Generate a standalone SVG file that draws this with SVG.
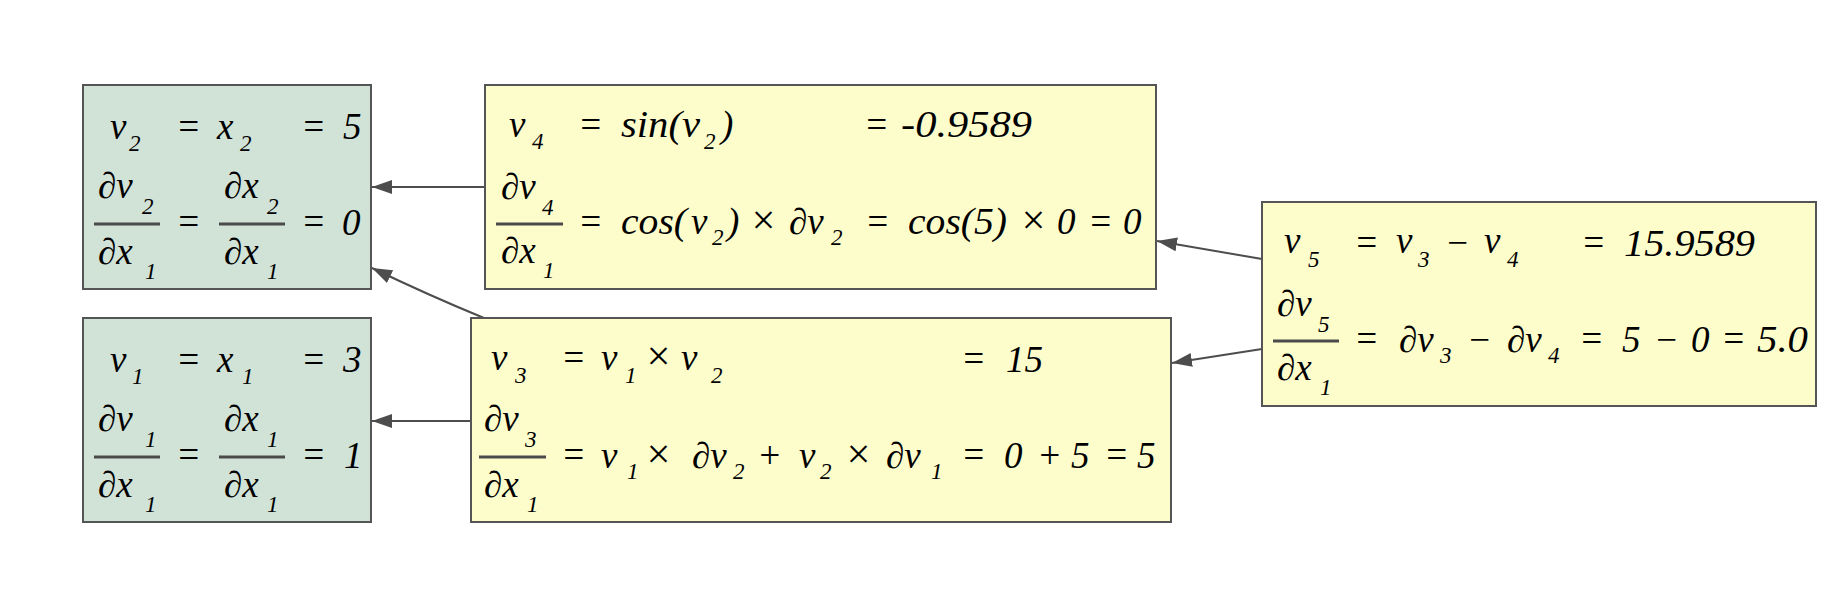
<svg xmlns="http://www.w3.org/2000/svg" width="1833" height="608" viewBox="0 0 1833 608">
<defs>
<marker id="ah" viewBox="0 0 20 14" refX="20" refY="7" markerWidth="20" markerHeight="14" markerUnits="userSpaceOnUse" orient="auto">
<path d="M0,0 L20,7 L0,14 z" fill="#4d4d4d"/>
</marker>
</defs>
<rect width="1833" height="608" fill="#ffffff"/>

<g id="connectors" fill="none" stroke="#4d4d4d" stroke-width="2">
<path d="M485,187 L372,187" marker-end="url(#ah)"/>
<path d="M484,318 Q428,295 372,268" marker-end="url(#ah)"/>
<path d="M471,421 L372,421" marker-end="url(#ah)"/>
<path d="M1262,259 L1157,241" marker-end="url(#ah)"/>
<path d="M1262,349 L1172,363" marker-end="url(#ah)"/>
</g>

<g id="v2">
<rect x="83" y="85" width="288" height="204" fill="#d1e2d7" stroke="#555555" stroke-width="2"/>
<text x="110" y="139" font-family="'Liberation Serif', 'Times New Roman', serif" font-style="italic" font-size="37">v</text>
<text x="129" y="151" font-family="'Liberation Serif', 'Times New Roman', serif" font-style="italic" font-size="23">2</text>
<text x="176" y="139" font-family="'Liberation Serif', 'Times New Roman', serif" font-style="italic" font-size="37">=</text>
<text x="217" y="139" font-family="'Liberation Serif', 'Times New Roman', serif" font-style="italic" font-size="37">x</text>
<text x="240" y="151" font-family="'Liberation Serif', 'Times New Roman', serif" font-style="italic" font-size="23">2</text>
<text x="301" y="139" font-family="'Liberation Serif', 'Times New Roman', serif" font-style="italic" font-size="37">=</text>
<text x="343" y="139" font-family="'Liberation Serif', 'Times New Roman', serif" font-style="italic" font-size="37">5</text>
<text x="98" y="198" font-family="'Liberation Serif', 'Times New Roman', serif" font-style="italic" font-size="37">∂v</text>
<text x="142" y="214" font-family="'Liberation Serif', 'Times New Roman', serif" font-style="italic" font-size="23">2</text>
<line x1="94" y1="224" x2="160" y2="224" stroke="#4a4a4a" stroke-width="3"/>
<text x="98" y="264" font-family="'Liberation Serif', 'Times New Roman', serif" font-style="italic" font-size="37">∂x</text>
<text x="145" y="279" font-family="'Liberation Serif', 'Times New Roman', serif" font-style="italic" font-size="23">1</text>
<text x="176" y="234" font-family="'Liberation Serif', 'Times New Roman', serif" font-style="italic" font-size="37">=</text>
<text x="224" y="198" font-family="'Liberation Serif', 'Times New Roman', serif" font-style="italic" font-size="37">∂x</text>
<text x="267" y="214" font-family="'Liberation Serif', 'Times New Roman', serif" font-style="italic" font-size="23">2</text>
<line x1="219" y1="224" x2="285" y2="224" stroke="#4a4a4a" stroke-width="3"/>
<text x="224" y="264" font-family="'Liberation Serif', 'Times New Roman', serif" font-style="italic" font-size="37">∂x</text>
<text x="267" y="279" font-family="'Liberation Serif', 'Times New Roman', serif" font-style="italic" font-size="23">1</text>
<text x="301" y="234" font-family="'Liberation Serif', 'Times New Roman', serif" font-style="italic" font-size="37">=</text>
<text x="342" y="235" font-family="'Liberation Serif', 'Times New Roman', serif" font-style="italic" font-size="37">0</text>
</g>

<g id="v1">
<rect x="83" y="318" width="288" height="204" fill="#d1e2d7" stroke="#555555" stroke-width="2"/>
<text x="110" y="372" font-family="'Liberation Serif', 'Times New Roman', serif" font-style="italic" font-size="37">v</text>
<text x="132" y="384" font-family="'Liberation Serif', 'Times New Roman', serif" font-style="italic" font-size="23">1</text>
<text x="176" y="372" font-family="'Liberation Serif', 'Times New Roman', serif" font-style="italic" font-size="37">=</text>
<text x="217" y="372" font-family="'Liberation Serif', 'Times New Roman', serif" font-style="italic" font-size="37">x</text>
<text x="242" y="384" font-family="'Liberation Serif', 'Times New Roman', serif" font-style="italic" font-size="23">1</text>
<text x="301" y="372" font-family="'Liberation Serif', 'Times New Roman', serif" font-style="italic" font-size="37">=</text>
<text x="343" y="372" font-family="'Liberation Serif', 'Times New Roman', serif" font-style="italic" font-size="37">3</text>
<text x="98" y="431" font-family="'Liberation Serif', 'Times New Roman', serif" font-style="italic" font-size="37">∂v</text>
<text x="145" y="447" font-family="'Liberation Serif', 'Times New Roman', serif" font-style="italic" font-size="23">1</text>
<line x1="94" y1="457" x2="160" y2="457" stroke="#4a4a4a" stroke-width="3"/>
<text x="98" y="497" font-family="'Liberation Serif', 'Times New Roman', serif" font-style="italic" font-size="37">∂x</text>
<text x="145" y="512" font-family="'Liberation Serif', 'Times New Roman', serif" font-style="italic" font-size="23">1</text>
<text x="176" y="467" font-family="'Liberation Serif', 'Times New Roman', serif" font-style="italic" font-size="37">=</text>
<text x="224" y="431" font-family="'Liberation Serif', 'Times New Roman', serif" font-style="italic" font-size="37">∂x</text>
<text x="267" y="447" font-family="'Liberation Serif', 'Times New Roman', serif" font-style="italic" font-size="23">1</text>
<line x1="219" y1="457" x2="285" y2="457" stroke="#4a4a4a" stroke-width="3"/>
<text x="224" y="497" font-family="'Liberation Serif', 'Times New Roman', serif" font-style="italic" font-size="37">∂x</text>
<text x="267" y="512" font-family="'Liberation Serif', 'Times New Roman', serif" font-style="italic" font-size="23">1</text>
<text x="301" y="467" font-family="'Liberation Serif', 'Times New Roman', serif" font-style="italic" font-size="37">=</text>
<text x="344" y="468" font-family="'Liberation Serif', 'Times New Roman', serif" font-style="italic" font-size="37">1</text>
</g>

<g id="v4">
<rect x="485" y="85" width="671" height="204" fill="#fdfdcc" stroke="#555555" stroke-width="2"/>
<text x="509" y="137" font-family="'Liberation Serif', 'Times New Roman', serif" font-style="italic" font-size="37">v</text>
<text x="532" y="149" font-family="'Liberation Serif', 'Times New Roman', serif" font-style="italic" font-size="23">4</text>
<text x="578" y="137" font-family="'Liberation Serif', 'Times New Roman', serif" font-style="italic" font-size="37">=</text>
<text x="621" y="137" font-family="'Liberation Serif', 'Times New Roman', serif" font-style="italic" font-size="37" textLength="79" lengthAdjust="spacingAndGlyphs">sin(v</text>
<text x="704" y="149" font-family="'Liberation Serif', 'Times New Roman', serif" font-style="italic" font-size="23">2</text>
<text x="721" y="137" font-family="'Liberation Serif', 'Times New Roman', serif" font-style="italic" font-size="37">)</text>
<text x="864" y="137" font-family="'Liberation Serif', 'Times New Roman', serif" font-style="italic" font-size="37">=</text>
<text x="901" y="137" font-family="'Liberation Serif', 'Times New Roman', serif" font-style="italic" font-size="37" textLength="131" lengthAdjust="spacingAndGlyphs">-0.9589</text>
<text x="501" y="199" font-family="'Liberation Serif', 'Times New Roman', serif" font-style="italic" font-size="37">∂v</text>
<text x="542" y="215" font-family="'Liberation Serif', 'Times New Roman', serif" font-style="italic" font-size="23">4</text>
<line x1="496" y1="224" x2="563" y2="224" stroke="#4a4a4a" stroke-width="3"/>
<text x="501" y="263" font-family="'Liberation Serif', 'Times New Roman', serif" font-style="italic" font-size="37">∂x</text>
<text x="543" y="278" font-family="'Liberation Serif', 'Times New Roman', serif" font-style="italic" font-size="23">1</text>
<text x="578" y="234" font-family="'Liberation Serif', 'Times New Roman', serif" font-style="italic" font-size="37">=</text>
<text x="621" y="234" font-family="'Liberation Serif', 'Times New Roman', serif" font-style="italic" font-size="37" textLength="66" lengthAdjust="spacingAndGlyphs">cos(</text>
<text x="691" y="234" font-family="'Liberation Serif', 'Times New Roman', serif" font-style="italic" font-size="37">v</text>
<text x="712" y="245" font-family="'Liberation Serif', 'Times New Roman', serif" font-style="italic" font-size="23">2</text>
<text x="727" y="234" font-family="'Liberation Serif', 'Times New Roman', serif" font-style="italic" font-size="37">)</text>
<text x="749" y="234" font-family="'Liberation Serif', 'Times New Roman', serif" font-style="italic" font-size="42">×</text>
<text x="789" y="234" font-family="'Liberation Serif', 'Times New Roman', serif" font-style="italic" font-size="37">∂v</text>
<text x="831" y="245" font-family="'Liberation Serif', 'Times New Roman', serif" font-style="italic" font-size="23">2</text>
<text x="865" y="234" font-family="'Liberation Serif', 'Times New Roman', serif" font-style="italic" font-size="37">=</text>
<text x="908" y="234" font-family="'Liberation Serif', 'Times New Roman', serif" font-style="italic" font-size="37" textLength="99" lengthAdjust="spacingAndGlyphs">cos(5)</text>
<text x="1019" y="234" font-family="'Liberation Serif', 'Times New Roman', serif" font-style="italic" font-size="42">×</text>
<text x="1057" y="234" font-family="'Liberation Serif', 'Times New Roman', serif" font-style="italic" font-size="37">0</text>
<text x="1088" y="234" font-family="'Liberation Serif', 'Times New Roman', serif" font-style="italic" font-size="37">=</text>
<text x="1123" y="234" font-family="'Liberation Serif', 'Times New Roman', serif" font-style="italic" font-size="37">0</text>
</g>

<g id="v3">
<rect x="471" y="318" width="700" height="204" fill="#fdfdcc" stroke="#555555" stroke-width="2"/>
<text x="491" y="370" font-family="'Liberation Serif', 'Times New Roman', serif" font-style="italic" font-size="37">v</text>
<text x="515" y="383" font-family="'Liberation Serif', 'Times New Roman', serif" font-style="italic" font-size="23">3</text>
<text x="561" y="370" font-family="'Liberation Serif', 'Times New Roman', serif" font-style="italic" font-size="37">=</text>
<text x="601" y="370" font-family="'Liberation Serif', 'Times New Roman', serif" font-style="italic" font-size="37">v</text>
<text x="625" y="383" font-family="'Liberation Serif', 'Times New Roman', serif" font-style="italic" font-size="23">1</text>
<text x="644" y="370" font-family="'Liberation Serif', 'Times New Roman', serif" font-style="italic" font-size="42">×</text>
<text x="681" y="370" font-family="'Liberation Serif', 'Times New Roman', serif" font-style="italic" font-size="37">v</text>
<text x="711" y="383" font-family="'Liberation Serif', 'Times New Roman', serif" font-style="italic" font-size="23">2</text>
<text x="961" y="371" font-family="'Liberation Serif', 'Times New Roman', serif" font-style="italic" font-size="37">=</text>
<text x="1006" y="372" font-family="'Liberation Serif', 'Times New Roman', serif" font-style="italic" font-size="37" textLength="37" lengthAdjust="spacingAndGlyphs">15</text>
<text x="484" y="431" font-family="'Liberation Serif', 'Times New Roman', serif" font-style="italic" font-size="37">∂v</text>
<text x="525" y="447" font-family="'Liberation Serif', 'Times New Roman', serif" font-style="italic" font-size="23">3</text>
<line x1="479" y1="457" x2="546" y2="457" stroke="#4a4a4a" stroke-width="3"/>
<text x="484" y="497" font-family="'Liberation Serif', 'Times New Roman', serif" font-style="italic" font-size="37">∂x</text>
<text x="527" y="512" font-family="'Liberation Serif', 'Times New Roman', serif" font-style="italic" font-size="23">1</text>
<text x="561" y="467" font-family="'Liberation Serif', 'Times New Roman', serif" font-style="italic" font-size="37">=</text>
<text x="601" y="468" font-family="'Liberation Serif', 'Times New Roman', serif" font-style="italic" font-size="37">v</text>
<text x="627" y="479" font-family="'Liberation Serif', 'Times New Roman', serif" font-style="italic" font-size="23">1</text>
<text x="644" y="468" font-family="'Liberation Serif', 'Times New Roman', serif" font-style="italic" font-size="42">×</text>
<text x="692" y="468" font-family="'Liberation Serif', 'Times New Roman', serif" font-style="italic" font-size="37">∂v</text>
<text x="733" y="479" font-family="'Liberation Serif', 'Times New Roman', serif" font-style="italic" font-size="23">2</text>
<text x="757" y="468" font-family="'Liberation Serif', 'Times New Roman', serif" font-style="italic" font-size="37">+</text>
<text x="799" y="468" font-family="'Liberation Serif', 'Times New Roman', serif" font-style="italic" font-size="37">v</text>
<text x="820" y="479" font-family="'Liberation Serif', 'Times New Roman', serif" font-style="italic" font-size="23">2</text>
<text x="844" y="468" font-family="'Liberation Serif', 'Times New Roman', serif" font-style="italic" font-size="42">×</text>
<text x="886" y="468" font-family="'Liberation Serif', 'Times New Roman', serif" font-style="italic" font-size="37">∂v</text>
<text x="931" y="479" font-family="'Liberation Serif', 'Times New Roman', serif" font-style="italic" font-size="23">1</text>
<text x="961" y="467" font-family="'Liberation Serif', 'Times New Roman', serif" font-style="italic" font-size="37">=</text>
<text x="1004" y="468" font-family="'Liberation Serif', 'Times New Roman', serif" font-style="italic" font-size="37">0</text>
<text x="1037" y="468" font-family="'Liberation Serif', 'Times New Roman', serif" font-style="italic" font-size="37">+</text>
<text x="1071" y="468" font-family="'Liberation Serif', 'Times New Roman', serif" font-style="italic" font-size="37">5</text>
<text x="1104" y="467" font-family="'Liberation Serif', 'Times New Roman', serif" font-style="italic" font-size="37">=</text>
<text x="1137" y="468" font-family="'Liberation Serif', 'Times New Roman', serif" font-style="italic" font-size="37">5</text>
</g>

<g id="v5">
<rect x="1262" y="202" width="554" height="204" fill="#fdfdcc" stroke="#555555" stroke-width="2"/>
<text x="1284" y="253" font-family="'Liberation Serif', 'Times New Roman', serif" font-style="italic" font-size="37">v</text>
<text x="1308" y="267" font-family="'Liberation Serif', 'Times New Roman', serif" font-style="italic" font-size="23">5</text>
<text x="1354" y="255" font-family="'Liberation Serif', 'Times New Roman', serif" font-style="italic" font-size="37">=</text>
<text x="1396" y="253" font-family="'Liberation Serif', 'Times New Roman', serif" font-style="italic" font-size="37">v</text>
<text x="1418" y="267" font-family="'Liberation Serif', 'Times New Roman', serif" font-style="italic" font-size="23">3</text>
<text x="1445" y="255" font-family="'Liberation Serif', 'Times New Roman', serif" font-style="italic" font-size="37">−</text>
<text x="1484" y="253" font-family="'Liberation Serif', 'Times New Roman', serif" font-style="italic" font-size="37">v</text>
<text x="1507" y="267" font-family="'Liberation Serif', 'Times New Roman', serif" font-style="italic" font-size="23">4</text>
<text x="1581" y="255" font-family="'Liberation Serif', 'Times New Roman', serif" font-style="italic" font-size="37">=</text>
<text x="1624" y="256" font-family="'Liberation Serif', 'Times New Roman', serif" font-style="italic" font-size="37" textLength="131" lengthAdjust="spacingAndGlyphs">15.9589</text>
<text x="1277" y="316" font-family="'Liberation Serif', 'Times New Roman', serif" font-style="italic" font-size="37">∂v</text>
<text x="1318" y="332" font-family="'Liberation Serif', 'Times New Roman', serif" font-style="italic" font-size="23">5</text>
<line x1="1273" y1="341" x2="1339" y2="341" stroke="#4a4a4a" stroke-width="3"/>
<text x="1277" y="380" font-family="'Liberation Serif', 'Times New Roman', serif" font-style="italic" font-size="37">∂x</text>
<text x="1320" y="395" font-family="'Liberation Serif', 'Times New Roman', serif" font-style="italic" font-size="23">1</text>
<text x="1354" y="351" font-family="'Liberation Serif', 'Times New Roman', serif" font-style="italic" font-size="37">=</text>
<text x="1399" y="352" font-family="'Liberation Serif', 'Times New Roman', serif" font-style="italic" font-size="37">∂v</text>
<text x="1440" y="363" font-family="'Liberation Serif', 'Times New Roman', serif" font-style="italic" font-size="23">3</text>
<text x="1467" y="352" font-family="'Liberation Serif', 'Times New Roman', serif" font-style="italic" font-size="37">−</text>
<text x="1507" y="352" font-family="'Liberation Serif', 'Times New Roman', serif" font-style="italic" font-size="37">∂v</text>
<text x="1548" y="363" font-family="'Liberation Serif', 'Times New Roman', serif" font-style="italic" font-size="23">4</text>
<text x="1579" y="351" font-family="'Liberation Serif', 'Times New Roman', serif" font-style="italic" font-size="37">=</text>
<text x="1622" y="352" font-family="'Liberation Serif', 'Times New Roman', serif" font-style="italic" font-size="37">5</text>
<text x="1654" y="352" font-family="'Liberation Serif', 'Times New Roman', serif" font-style="italic" font-size="37">−</text>
<text x="1691" y="352" font-family="'Liberation Serif', 'Times New Roman', serif" font-style="italic" font-size="37">0</text>
<text x="1721" y="351" font-family="'Liberation Serif', 'Times New Roman', serif" font-style="italic" font-size="37">=</text>
<text x="1757" y="352" font-family="'Liberation Serif', 'Times New Roman', serif" font-style="italic" font-size="37" textLength="51" lengthAdjust="spacingAndGlyphs">5.0</text>
</g>
</svg>
